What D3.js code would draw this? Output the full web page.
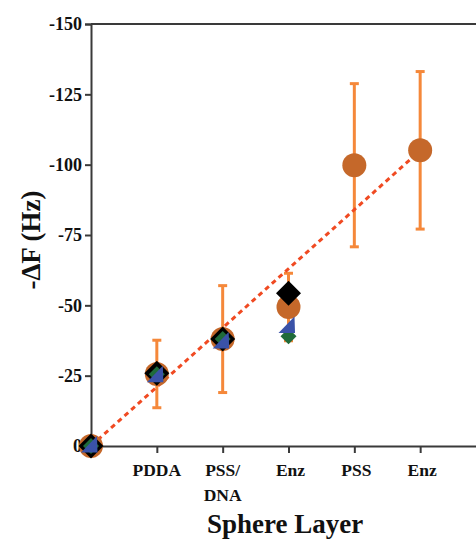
<!DOCTYPE html>
<html><head><meta charset="utf-8">
<script src="https://cdn.jsdelivr.net/npm/d3@7"></script>
<style>body{margin:0;background:#fff}svg{display:block}</style>
</head><body>
<script>
const categories = ["", "PDDA", "PSS/DNA", "Enz", "PSS", "Enz"];
const yTicks = [0, -25, -50, -75, -100, -125, -150];
const circleMean = [0, -25.6, -38, -49.4, -99.8, -105.1];
const circleErr = [0, 12, 19, 12, 29, 28];
const blackDiamond = [0, -25.9, -38, -54.3];
const greenDiamond = [0, -25.5, -38, -39];
const blueTriangle = [0, -25, -37, -42.5];
const fitLine = [[0, 0], [5, -105]];

const W = 476, H = 539;
const svg = d3.select("body").append("svg").attr("width", W).attr("height", H);
const x = d3.scaleLinear().domain([0, 6]).range([91, 486]);
const y = d3.scaleLinear().domain([0, -150]).range([446, 24]);
const font = "'Liberation Serif','Times New Roman',serif";
const axisColor = "#3a3a3a";

// axes
const yAx = svg.append("g").attr("transform", `translate(${x(0)},0)`)
  .call(d3.axisLeft(y).tickValues(yTicks).tickSize(6).tickPadding(3).tickFormat(d => String(d)));
yAx.select(".domain").attr("stroke", axisColor).attr("stroke-width", 2);
yAx.selectAll(".tick line").attr("stroke", axisColor).attr("stroke-width", 2);
yAx.selectAll(".tick text").attr("font-family", font).attr("font-weight", "bold")
  .attr("font-size", 18).attr("fill", "#111");

const xAx = svg.append("g").attr("transform", `translate(0,${y(0)})`)
  .call(d3.axisBottom(x).tickValues([1, 2, 3, 4, 5]).tickSize(7).tickFormat(""));
xAx.select(".domain").attr("stroke", axisColor).attr("stroke-width", 2);
xAx.selectAll(".tick line").attr("stroke", axisColor).attr("stroke-width", 2);

// top frame line
svg.append("line").attr("x1", x(0)).attr("x2", x(6)).attr("y1", y(-150)).attr("y2", y(-150))
  .attr("stroke", axisColor).attr("stroke-width", 2);

// x labels
const xl = svg.append("g");
categories.forEach((c, i) => {
  if (!c) return;
  const lines = c === "PSS/DNA" ? ["PSS/", "DNA"] : [c];
  lines.forEach((ln, j) => {
    xl.append("text").attr("x", x(i) + (i >= 3 ? 2 : 0)).attr("y", 476 + j * 25)
      .attr("text-anchor", "middle").attr("font-family", font).attr("font-weight", "bold")
      .attr("font-size", 17.5).attr("fill", "#111").text(ln);
  });
});

// titles
svg.append("text").attr("x", 285).attr("y", 533).attr("text-anchor", "middle")
  .attr("font-family", font).attr("font-weight", "bold").attr("font-size", 27).attr("fill", "#111")
  .text("Sphere Layer");
svg.append("text").attr("transform", "translate(40,240) rotate(-90)").attr("text-anchor", "middle")
  .attr("font-family", font).attr("font-weight", "bold").attr("font-size", 27).attr("fill", "#111")
  .text("-ΔF (Hz)");

// error bars
const eb = svg.append("g").attr("stroke", "#f5883a").attr("stroke-width", 3);
circleMean.forEach((m, i) => {
  if (!circleErr[i]) return;
  const top = y(m - circleErr[i]), bot = y(m + circleErr[i]);
  eb.append("line").attr("x1", x(i)).attr("x2", x(i)).attr("y1", top).attr("y2", bot);
  eb.append("line").attr("x1", x(i) - 4.5).attr("x2", x(i) + 4.5).attr("y1", top).attr("y2", top);
  eb.append("line").attr("x1", x(i) - 4.5).attr("x2", x(i) + 4.5).attr("y1", bot).attr("y2", bot);
});

// fit line
svg.append("path").attr("d", d3.line().x(d => x(d[0])).y(d => y(d[1]))(fitLine))
  .attr("fill", "none").attr("stroke", "#f04a22").attr("stroke-width", 3).attr("stroke-dasharray", "5,4");

// circles
svg.append("g").selectAll("circle").data(circleMean).join("circle")
  .attr("cx", (d, i) => x(i)).attr("cy", d => y(d)).attr("r", 12).attr("fill", "#c5682a");

const diamond = s => `M0,${-s}L${s},0L0,${s}L${-s},0Z`;
svg.append("g").selectAll("path").data(blackDiamond).join("path")
  .attr("transform", (d, i) => `translate(${x(i)},${y(d)})`).attr("d", diamond(12.5)).attr("fill", "#000");
svg.append("g").selectAll("path").data(greenDiamond).join("path")
  .attr("transform", (d, i) => `translate(${x(i)},${y(d)})`).attr("d", diamond(8)).attr("fill", "#1f6b3a");
svg.append("g").selectAll("path").data(blueTriangle).join("path")
  .attr("transform", (d, i) => `translate(${x(i)},${y(d)})`).attr("d", "M6,-10L-10,6.5L6.5,6.5Z").attr("fill", "#3a52a8");
</script>
</body></html>
